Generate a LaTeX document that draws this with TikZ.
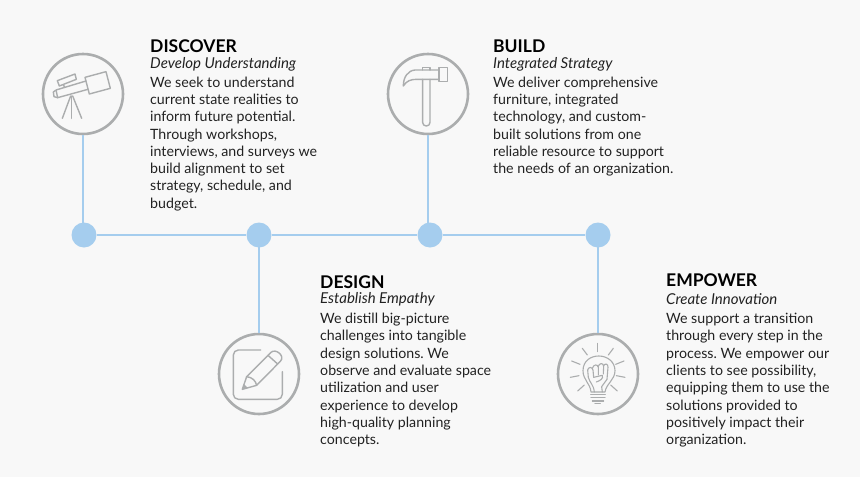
\documentclass[tikz,border=0pt]{standalone}
\usepackage{fontspec}
\setmainfont{Lato}
\usetikzlibrary{positioning}
\definecolor{pagebg}{HTML}{F8F8F8}
\definecolor{linkblue}{HTML}{A5CDEE}
\definecolor{icongray}{HTML}{ABADAE}
\definecolor{inkblack}{HTML}{222222}
\frenchspacing
\begin{document}
\begin{tikzpicture}[
    x=1pt, y=-1pt,
    title/.style={font=\fontsize{17.5}{20}\selectfont\bfseries, text=black, inner sep=0pt},
    subtitle/.style={font=\fontsize{15}{16}\selectfont\itshape, text=inkblack, inner sep=0pt},
    body/.style={font=\fontsize{14.2}{17.3}\selectfont, text=inkblack, align=left, inner sep=0pt},
    dot/.style={circle, fill=linkblue, minimum size=25pt, inner sep=0pt},
    ring/.style={circle, draw=icongray, line width=2.6pt, fill=pagebg, minimum size=80pt, inner sep=0pt},
    link/.style={draw=linkblue, line width=2.2pt},
    icon/.style={draw=icongray, line width=1.4pt, line join=round, line cap=round},
    thinicon/.style={icon, line width=1.1pt},
    iconframe/.style={x=0.3333pt, y=-0.3333pt}
  ]
    \useasboundingbox[fill=pagebg] (0,0) rectangle (860,477);

    % Timeline dots
    \node[dot] (dot1) at (84,235) {};
    \node[dot] (dot2) at (259,235) {};
    \node[dot] (dot3) at (430,235) {};
    \node[dot] (dot4) at (598,235) {};

    % Rings
    \node[ring] (discover) at (83,94) {};
    \node[ring] (build) at (428,94) {};
    \node[ring] (design) at (259,374) {};
    \node[ring] (empower) at (598,374) {};

    % Connectors
    \draw[link] (dot1) -- (dot2);
    \draw[link] (dot2) -- (dot3);
    \draw[link] (dot3) -- (dot4);
    \draw[link] (discover.south) -- (discover.south |- dot1.center);
    \draw[link] (build.south) -- (build.south |- dot3.center);
    \draw[link] (design.north) -- (design.north |- dot2.center);
    \draw[link] (empower.north) -- (empower.north |- dot4.center);

    % Telescope
    \begin{scope}[shift={(30,40)}, iconframe]
      \draw[icon] (165,112) -- (228,95) -- (241,145) -- (178,162) -- cycle;
      \draw[icon] (168,123) -- (78,150) -- (83,173) -- (174,148);
      \draw[icon] (77,151) -- (70,156) -- (72,170) -- (83,173);
      \draw[icon] (82,122) -- (135,102) -- (139,118) -- (88,138) -- cycle;
      \draw[icon] (100,134) -- (104,142);
      \draw[icon] (122,168) -- (97,235);
      \draw[icon] (125,168) -- (125,235);
      \draw[icon] (128,168) -- (155,235);
    \end{scope}

    % Hammer
    \begin{scope}[shift={(375,40)}, iconframe]
      \draw[icon, rounded corners=3.5pt] (143,118) -- (143,258) -- (165,258) -- (165,118);
      \draw[icon] (143,90) -- (143,82) -- (165,82) -- (165,90);
      \draw[icon] (192,82) rectangle (218,125);
      \draw[icon] (192,90) -- (120,90) .. controls (98,92) and (85,112) .. (85,138)
        .. controls (95,122) and (108,118) .. (125,118) -- (192,118);
    \end{scope}

    % Pencil and sheet
    \begin{scope}[shift={(205,320)}, iconframe]
      \draw[icon, rounded corners=5pt] (167,90) -- (85,90) -- (85,238) -- (232,238) -- (232,155);
      \draw[icon] (125,170) -- (198,97) .. controls (212,84) and (242,108) .. (226,124)
        -- (155,196) -- (112,208) -- cycle;
      \draw[icon] (125,170) .. controls (142,172) and (152,182) .. (155,196);
      \draw[icon] (189,106) -- (218,132);
      \fill[icongray] (112,208) -- (117,192) -- (128,203) -- cycle;
    \end{scope}

    % Bulb and fist
    \begin{scope}[shift={(545,320)}, iconframe]
      \foreach \xa/\ya/\xb/\yb in {158/70/158/95, 112/85/127/105, 205/85/190/105, 80/123/105/133,
          237/123/212/133, 76/172/102/167, 240/172/214/167, 98/213/118/195, 217/213/197/195}
        \draw[thinicon] (\xa,\ya) -- (\xb,\yb);
      \draw[thinicon] (138,216) .. controls (136,190) and (114,180) .. (114,152)
        .. controls (114,122) and (138,108) .. (161,108)
        .. controls (188,108) and (210,126) .. (210,152)
        .. controls (210,180) and (184,190) .. (180,216) -- cycle;
      \draw[thinicon] (130,172) -- (128,150) .. controls (130,140) and (142,140) .. (144,150) -- (146,172);
      \draw[thinicon] (142,145) .. controls (146,132) and (158,132) .. (160,142) -- (160,165);
      \draw[thinicon] (159,140) .. controls (164,128) and (174,128) .. (176,138) -- (175,162);
      \draw[thinicon] (175,138) .. controls (180,128) and (190,132) .. (189,142)
        -- (186,178) -- (170,200) -- (172,216);
      \draw[thinicon] (130,172) .. controls (134,188) and (146,194) .. (148,216);
      \draw[thinicon] (146,172) -- (172,166) .. controls (176,176) and (165,182) .. (154,186);
      \draw[thinicon] (137,223) -- (181,223);
      \draw[thinicon] (138,233) -- (180,233);
      \draw[thinicon] (142,243) -- (176,243);
      \draw[thinicon] (150,251) -- (166,251);
    \end{scope}

    % Discover text
    \node[title, anchor=base west] (discovertitle) at (150,52.5) {DISCOVER};
    \node[subtitle, anchor=base west] (discoversub) at (150,68) {Develop Understanding};
    \node[body, anchor=north west] (discoverbody) at (150,76.5) {We seek to understand\\current state realities to\\inform future potential.\\Through workshops,\\interviews, and surveys we\\build alignment to set\\strategy, schedule, and\\budget.};

    % Build text
    \node[title, anchor=base west] (buildtitle) at (493,52.5) {BUILD};
    \node[subtitle, anchor=base west] (buildsub) at (493,68) {Integrated Strategy};
    \node[body, anchor=north west] (buildbody) at (493,76.5) {We deliver comprehensive\\furniture, integrated\\technology, and custom-\\built solutions from one\\reliable resource to support\\the needs of an organization.};

    % Design text
    \node[title, anchor=base west] (designtitle) at (320,288) {DESIGN};
    \node[subtitle, anchor=base west] (designsub) at (320,303.5) {Establish Empathy};
    \node[body, anchor=north west] (designbody) at (320,313) {We distill big-picture\\challenges into tangible\\design solutions. We\\observe and evaluate space\\utilization and user\\experience to develop\\high-quality planning\\concepts.};

    % Empower text
    \node[title, anchor=base west] (empowertitle) at (666,286) {EMPOWER};
    \node[subtitle, anchor=base west] (empowersub) at (666,304) {Create Innovation};
    \node[body, anchor=north west] (empowerbody) at (666,313) {We support a transition\\through every step in the\\process. We empower our\\clients to see possibility,\\equipping them to use the\\solutions provided to\\positively impact their\\organization.};
  \end{tikzpicture}
\end{document}
